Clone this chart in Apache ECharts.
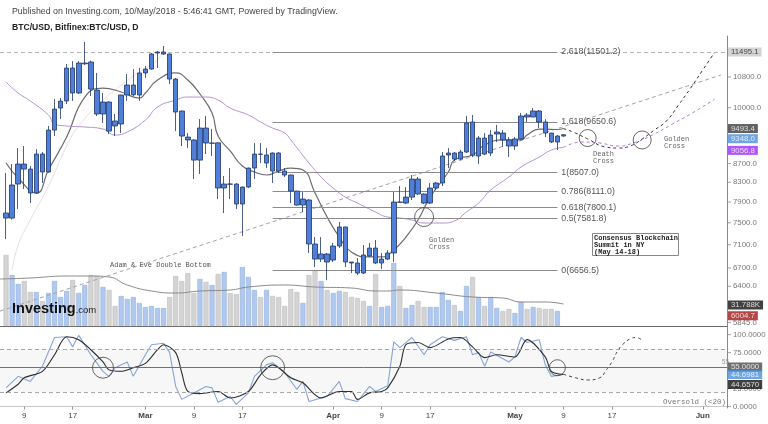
<!DOCTYPE html>
<html><head><meta charset="utf-8">
<script src="https://cdn.jsdelivr.net/npm/echarts@6/dist/echarts.min.js"></script>
<style>html,body{margin:0;padding:0;background:#fff}#c{width:768px;height:424px}</style>
</head><body><div id="c"></div>
<script>
// ---------- categories (daily, 2018-02-05 .. 2018-06-05) ----------
const categories = [];
(function(){ let t = Date.UTC(2018,1,5); const end = Date.UTC(2018,5,5);
  while (t <= end) { categories.push(new Date(t).toISOString().slice(0,10)); t += 86400000; } })();

// x tick labels
const xTicks = {'2018-02-09':'9','2018-02-17':'17','2018-03-01':'Mar','2018-03-09':'9','2018-03-17':'17',
  '2018-04-01':'Apr','2018-04-09':'9','2018-04-17':'17','2018-05-01':'May','2018-05-09':'9','2018-05-17':'17','2018-06-01':'Jun'};

// ---------- daily candles from 2018-02-06: [open, close, low, high] ----------
const ohlc = [
[7686,7590,7202,8495],[7589,8244,7560,8687],[8264,8687,7762,9041],[8687,8578,8161,9087],[8578,8080,7880,8644],
[8080,8907,8060,9018],[8907,8516,8285,8952],[8516,9457,8500,9554],[9457,9966,9317,10219],[9992,10167,9721,10245],
[10170,11043,10093,11155],[11043,10375,10170,11236],[10375,11183,10350,11236],[11160,11183,11127,11786],[11211,10477,10297,11250],
[10451,9845,9795,10908],[9845,10144,9626,10375],[10144,9433,9364,10160],[9674,9554,9317,9845],[9602,10323,9387,10330],
[10323,10584,10170,10880],[10330,10584,10297,11015],[10323,10908,10170,11043],[10908,11015,10771,11099],[11015,11438,11000,11466],
[11466,11495,11043,11524],[11438,11495,11409,11668],[11438,10744,10611,11450],[10744,9894,9433,10771],[9919,9317,9087,9930],
[9293,9226,9041,9387],[9226,8773,8367,9240],[8773,9505,8473,9721],[9505,9156,8907,9795],[9150,9156,8863,9481],
[9160,8181,7958,9170],[8181,8264,7686,8431],[8264,8260,7958,8600],[8264,7861,7762,8280],[7861,8202,7257,8210],
[8202,8600,8180,8610],[8600,8907,8367,9156],[8907,8900,8709,9156],[8709,8885,8600,9041],[8930,8537,8285,8940],
[8930,8537,8495,8952],[8537,8452,8410,8600],[8452,8119,7880,8460],[8119,7841,7830,8125],[7841,7958,7705,8100],
[7940,7113,6955,7958],[7113,6850,6715,7238],[6850,6937,6800,7238],[6937,6800,6499,6955],[6833,7077,6800,7131],
[7077,7422,7041,7515],[7422,6800,6715,7430],[6800,6783,6615,6800],[6783,6615,6582,6867],[6920,6615,6600,7095],
[6903,7041,6886,7131],[7041,6783,6766,7185],[6783,6850,6682,6955],[6850,6955,6833,7005],[6955,7900,6800,8100],
[7900,7895,7890,8223],[7880,7998,7860,8202],[7998,8367,7940,8452],[8367,8060,8040,8410],[8060,7880,7861,8070],
[7880,8181,7861,8285],[8181,8285,8140,8306],[8285,8863,8223,8952],[8885,8930,8600,9041],[8930,8795,8752,8952],
[8795,8952,8773,9000],[8952,9626,8930,9795],[9650,8885,8840,9820],[8863,9270,8687,9317],[9270,8907,8885,9387],
[8930,9340,8863,9457],[9364,9411,9179,9578],[9387,9226,9064,9457],[9226,9087,8840,9293],[9087,9249,9000,9293],
[9249,9795,9226,9870],[9820,9770,9650,9870],[9770,9919,9770,9992],[9919,9650,9505,9943],[9650,9387,9293,9721],
[9387,9179,9156,9390],[9179,9317,8996,9340],[9317,9348,9300,9360]
];
// volume (thousands), same days
const volumeK = [142,102,84,90,68,68,50,66,90,58,70,92,66,82,102,100,78,72,40,60,54,58,46,38,40,36,36,58,100,90,
106,66,94,88,82,104,108,66,64,118,98,72,58,72,60,58,40,74,68,46,102,110,90,72,66,70,68,58,56,50,
40,104,38,40,126,80,36,42,50,38,38,38,68,52,42,30,80,98,58,40,58,36,30,34,26,48,34,38,36,34,34,30];
// volume moving average [dayIndex, K]
const volMA = [[0,94],[5,96],[11,100],[15,100],[18,98],[21,82],[25,70],[29,66],[33,70],[38,72],[41,78],[47,82],[52,78],
[58,76],[62,70],[64,70],[66,72],[72,66],[78,58],[83,56],[86,48],[90,48],[93,44]];

// moving averages on price [dayIndex, price]
const maFast = [[1,8709],[3,8388],[6,8080],[8,8559],[11,9293],[14,10271],[17,10504],[20,10401],[23,10245],[24,10375],
[26,10716],[29,10908],[31,10716],[33,10349],[35,9870],[36,9317],[38,8975],[40,8644],[42,8516],[44,8452],[46,8537],
[48,8600],[50,8559],[52,8080],[54,7609],[56,7238],[58,6972],[61,6886],[63,6886],[65,7006],[67,7238],[69,7553],
[71,7998],[74,8516],[75,8773],[78,8885],[80,9110],[83,9226],[86,9226],[87,9340],[89,9481],[90,9481],[92,9470],[93,9493.4]];
const maSlow = [[1,10664],[3,10375],[5,10170],[8,9820],[9,9602],[11,9554],[14,9530],[17,9481],[19,9340],[21,9411],
[24,9696],[26,10017],[29,10193],[31,10271],[34,10271],[36,10193],[38,9992],[41,9820],[43,9650],[45,9505],[47,9387],
[48,9226],[51,8709],[53,8410],[55,8181],[57,7998],[59,7880],[62,7705],[64,7609],[66,7590],[68,7553],[70,7496],
[73,7496],[75,7534],[77,7705],[79,7880],[81,8140],[84,8410],[86,8622],[89,8840],[91,8996],[93,9056.8]];
const maFaint = [[2,6665],[3,7095],[5,7553],[8,8223],[11,9087],[13,9554],[17,10193],[20,10584],[23,10935],[26,11265],[27,11610]];

// drawn projections [dayIndex, price]
const trendLine = [[0,6015],[119,10853]];
const projFast = [[93,9493],[95,9387],[97,9249],[100,9064],[102,9041],[104,9087],[106,9249],[108,9457],[110,9674],
[112,10068],[114,10504],[116,10990],[118,11495]];
const projSlow = [[93,9057],[96,9179],[99,9156],[102,9087],[105,9179],[108,9364],[111,9602],[114,9845],[118,10219]];

// Fibonacci levels
const fibLevels = [['2.618',11501.2],['1.618',9650.6],['1',8507.0],['0.786',8111.0],['0.618',7800.1],['0.5',7581.8],['0',6656.5]];
const fibStart = '2018-03-22', fibEnd = '2018-05-08';

// circles [dayIndex, value, size]
const priceCircles = [[69.7,7609,19],[97.3,9270,17],[105.7,9226,18]];
const oscCircles = [[17,54,21],[44.6,54,24],[92,54,16]];

// oscillator [dayIndex, value]
const stochK = [[1,26],[3,42],[5,35],[7,56],[9,96],[11,97],[12,83],[13,99],[15,72],[17,49],[18,42],[19,54],[21,62],[22,42],
[24,72],[25,86],[27,88],[28,75],[29,28],[30,10],[32,19],[34,28],[35,26],[36,6],[38,14],[39,3],[41,19],[42,42],[44,58],
[45,61],[47,47],[49,24],[50,35],[51,7],[53,12],[54,14],[56,35],[57,11],[59,7],[61,28],[62,21],[64,29],[65,90],[66,82],
[68,96],[70,72],[71,86],[73,97],[75,92],[77,97],[78,72],[79,75],[80,56],[81,76],[84,62],[85,69],[86,96],[87,89],[89,93],
[90,58],[91,42],[93,44.6981]];
const stochD = [[1,19],[3,31],[4,40],[7,49],[9,72],[11,97],[13,93],[15,79],[17,62],[18,51],[20,49],[22,54],[24,60],[26,79],
[27,86],[29,75],[30,47],[31,21],[33,18],[36,21],[38,12],[41,21],[43,44],[45,58],[46,54],[48,40],[50,33],[53,12],[56,21],
[58,21],[59,10],[61,19],[63,21],[64,26],[66,56],[67,86],[69,89],[71,82],[74,94],[76,96],[78,83],[80,68],[82,72],[85,69],
[87,93],[90,69],[91,49],[93,44.657]];
const stochProj = [[93,45],[95,40],[97,37],[99,40],[100,50],[101,62],[102,78],[103,88],[104,94],[105,96],[106,92]];

// right axis ticks / boxes
const priceTicks = [10800,10000,8700,8300,7900,7500,7100,6700,6400,5845];
const priceBoxes = [[11495.1,'#c9c9c9','#222',0],[9493.4,'#3a3a3a','#fff',0],[9348.0,'#4a8fdc','#fff',4],[9056.8,'#9a2cf5','#fff',3],[6004.7,'#a01818','#fff',4]];
const volBoxes = [[31.788,'31.788K','#111','#fff',-5]];
const oscTicks = [100,75,25,0];
const oscBoxes = [[55,'#4a4a4a','#fff',0],[44.6981,'#4a8fdc','#fff',0],[44.6570,'#111','#fff',10]];

// ---------------------------------------------------------------
const SANS = 'Liberation Sans, Arial, sans-serif';
const MONO = 'Liberation Mono, DejaVu Sans Mono, monospace';
const LAST = 120;
const candleData = categories.map((c,i)=> (i>=1 && i<=ohlc.length) ? ohlc[i-1] : '-');
const volData = categories.map((c,i)=>{
  if (i<1 || i>volumeK.length) return '-';
  const o = ohlc[i-1]; const up = o[1] >= o[0];
  return {value: volumeK[i-1], itemStyle:{color: up?'#b1c9ee':'#d4d4d4', borderColor: up?'#8eaee0':'#bcbcbc', borderWidth:0.6}};
});
function tickFn(idx, val){ return xTicks.hasOwnProperty(val); }

const chart = echarts.init(document.getElementById('c'));
const option = {
  animation:false,
  backgroundColor:'#fff',
  title:[
    {text:'Published on Investing.com, 10/May/2018 - 5:46:41 GMT, Powered by TradingView.', left:7, top:2,
     textStyle:{fontFamily:SANS, fontSize:8.8, fontWeight:'normal', color:'#444'}},
    {text:'BTC/USD, Bitfinex:BTC/USD, D', left:7, top:18, textStyle:{fontFamily:SANS, fontSize:8.6, fontWeight:'bold', color:'#222'}}
  ],
  grid:[
    {left:0, right:41, top:36, height:290},
    {left:0, right:41, top:226, height:100},
    {left:0, right:41, top:326, height:82}
  ],
  xAxis:[
    {type:'category', gridIndex:0, data:categories, boundaryGap:false, show:false},
    {type:'category', gridIndex:1, data:categories, boundaryGap:false, axisLine:{show:true, lineStyle:{color:'#6a6a6a'}}, axisTick:{show:false}, axisLabel:{show:false}},
    {type:'category', gridIndex:2, data:categories, boundaryGap:false,
     axisLine:{show:true, lineStyle:{color:'#c8c8c8'}},
     axisTick:{show:true, interval:tickFn, length:3, lineStyle:{color:'#999'}},
     axisLabel:{interval:tickFn, margin:4, fontFamily:SANS, fontSize:8, color:'#444',
       formatter:v=>{ const t = xTicks[v]; return /^[A-Z]/.test(t) ? '{b|'+t+'}' : t; },
       rich:{b:{fontWeight:'bold', fontFamily:SANS, fontSize:8, color:'#444'}}}}
  ],
  yAxis:[
    {type:'log', gridIndex:0, position:'right', min:5794.6, max:11964.3, axisLine:{show:true, lineStyle:{color:'#888'}},
     axisTick:{show:false}, axisLabel:{show:false}, splitLine:{show:false}},
    {type:'value', gridIndex:1, min:0, max:200, show:false, splitLine:{show:false}},
    {type:'value', gridIndex:2, position:'right', min:-2, max:112, axisLine:{show:true, lineStyle:{color:'#888'}},
     axisTick:{show:false}, axisLabel:{show:false}, splitLine:{show:false}}
  ],
  series:[
    {type:'bar', xAxisIndex:1, yAxisIndex:1, data:volData, barWidth:5, z:1},
    {type:'line', xAxisIndex:1, yAxisIndex:1, data:volMA, smooth:true, symbol:'none', lineStyle:{color:'#8a8a8a', width:1}, z:2},
    {type:'line', xAxisIndex:0, yAxisIndex:0, data:maFaint, smooth:true, symbol:'none', lineStyle:{color:'#e9dde6', width:1}, z:2},
    {type:'line', xAxisIndex:0, yAxisIndex:0, data:trendLine, symbol:'none', lineStyle:{color:'#a8a0aa', width:1, type:[4,3]}, z:2},
    {type:'candlestick', xAxisIndex:0, yAxisIndex:0, data:candleData, barWidth:5, z:5,
     itemStyle:{color:'#4f7fd6', color0:'#4f7fd6', borderColor:'#1f3769', borderColor0:'#1f3769', borderWidth:0.8},
     markLine:{silent:true, symbol:['none','none'], animation:false,
       data:[
         {yAxis:11495.1, lineStyle:{color:'#b5b5b5', type:[4,3], width:1}, label:{show:false}},
         ...fibLevels.map(([r,v])=>[
           {coord:[fibStart, v], lineStyle:{color:'#8c8c8c', type:'solid', width:1.2}},
           {coord:[fibEnd, v], label:{show:true, position:'end', distance:4, formatter:r+'('+v.toFixed(1)+')',
              fontFamily:SANS, fontSize:8.8, color:'#555'}}])
       ]}},
    {type:'line', xAxisIndex:0, yAxisIndex:0, data:maFast, smooth:true, symbol:'none', lineStyle:{color:'#6c6c6c', width:1.2}, z:4},
    {type:'line', xAxisIndex:0, yAxisIndex:0, data:maSlow, smooth:true, symbol:'none', lineStyle:{color:'#b393cf', width:1}, z:4},
    {type:'line', xAxisIndex:0, yAxisIndex:0, data:projFast, smooth:true, symbol:'none', lineStyle:{color:'#333', width:1, type:[3,3]}, z:4},
    {type:'line', xAxisIndex:0, yAxisIndex:0, data:projSlow, smooth:true, symbol:'none', lineStyle:{color:'#b07cd6', width:1, type:[3,3]}, z:4},
    {type:'scatter', xAxisIndex:0, yAxisIndex:0, data:priceCircles.map(c=>[c[0],c[1]]), symbolSize:(v,p)=>priceCircles[p.dataIndex][2],
     itemStyle:{color:'rgba(0,0,0,0)', borderColor:'#444', borderWidth:1}, z:6, silent:true},
    // right axis tick labels (price)
    {type:'scatter', xAxisIndex:0, yAxisIndex:0, clip:false, data:priceTicks.map(v=>[LAST,v]), symbol:'rect', symbolSize:[4,1], symbolOffset:[2,0],
     itemStyle:{color:'#888'}, label:{show:true, position:'right', distance:2, formatter:p=>p.value[1].toFixed(1), fontFamily:SANS, fontSize:7.8, color:'#555'}, z:7},
    {type:'scatter', xAxisIndex:0, yAxisIndex:0, clip:false, symbolSize:0, z:9,
     data:priceBoxes.map(b=>({value:[LAST,b[0]], label:{backgroundColor:b[1], color:b[2]}})),
     label:{show:true, position:'right', distance:1, fontFamily:SANS, fontSize:7.8, padding:[1,3,0,3],
       formatter:p=>p.value[1].toFixed(1)},
     labelLayout:p=>({dy: priceBoxes[p.dataIndex][3]}),
     itemStyle:{color:'rgba(0,0,0,0)'}},
    // volume box
    {type:'scatter', xAxisIndex:1, yAxisIndex:1, clip:false, data:volBoxes.map(b=>[LAST,b[0]]), symbolSize:0, z:10,
     label:{show:true, position:'right', distance:1, fontFamily:SANS, fontSize:7.8, padding:[1,3,0,3], formatter:p=>volBoxes[p.dataIndex][1],
       backgroundColor:'#111', color:'#fff'}, labelLayout:p=>({dy: volBoxes[p.dataIndex][4]})},
    // oscillator
    {type:'line', xAxisIndex:2, yAxisIndex:2, data:stochK, symbol:'none', lineStyle:{color:'#86a5d6', width:1.1}, z:3,
     markArea:{silent:true, itemStyle:{color:'#f7f7f7'}, data:[[{yAxis:20},{yAxis:80}]]},
     markLine:{silent:true, symbol:['none','none'], label:{show:false}, data:[
        {yAxis:80, lineStyle:{color:'#a8a8a8', type:[4,3], width:1}},
        {yAxis:20, lineStyle:{color:'#a8a8a8', type:[4,3], width:1}},
        {yAxis:55, lineStyle:{color:'#707070', type:'solid', width:1}, label:{show:true, position:'insideEndTop', formatter:'55', fontSize:6.5, color:'#999', distance:[-2,1]}}]}},
    {type:'line', xAxisIndex:2, yAxisIndex:2, data:stochD, smooth:0.3, symbol:'none', lineStyle:{color:'#2e2e2e', width:1.1}, z:4},
    {type:'line', xAxisIndex:2, yAxisIndex:2, data:stochProj, smooth:true, symbol:'none', lineStyle:{color:'#444', width:1, type:[3,3]}, z:4},
    {type:'scatter', xAxisIndex:2, yAxisIndex:2, data:oscCircles.map(c=>[c[0],c[1]]), symbolSize:(v,p)=>oscCircles[p.dataIndex][2],
     itemStyle:{color:'rgba(0,0,0,0)', borderColor:'#444', borderWidth:1}, z:6, silent:true},
    {type:'scatter', xAxisIndex:2, yAxisIndex:2, clip:false, data:oscTicks.map(v=>[LAST,v]), symbol:'rect', symbolSize:[4,1], symbolOffset:[2,0],
     itemStyle:{color:'#888'}, label:{show:true, position:'right', distance:2, formatter:p=>p.value[1].toFixed(4), fontFamily:SANS, fontSize:7.8, color:'#555'}, z:7},
    {type:'scatter', xAxisIndex:2, yAxisIndex:2, clip:false, symbolSize:0, z:9,
     data:oscBoxes.map(b=>({value:[LAST,b[0]], label:{backgroundColor:b[1], color:b[2]}})),
     label:{show:true, position:'right', distance:1, fontFamily:SANS, fontSize:7.8, padding:[1,3,0,3], formatter:p=>p.value[1].toFixed(4)},
     labelLayout:p=>({dy: oscBoxes[p.dataIndex][3]})}
  ],
  graphic:[
    {type:'text', left:12, top:301, z:20, style:{text:'{a|Investing}{b|.com}', rich:{
      a:{fontFamily:SANS, fontWeight:'bold', fontSize:14.5, fill:'#111'}, b:{fontFamily:SANS, fontSize:9.5, fill:'#222', padding:[3,0,0,0]}}}},
    {type:'text', left:110, top:262, z:20, style:{text:'Adam & Eve Double Bottom', font:'7px '+MONO, fill:'#555'}},
    {type:'text', left:429, top:236, z:20, style:{text:'Golden\nCross', font:'7px '+MONO, fill:'#666', lineHeight:7.5}},
    {type:'text', left:593, top:150, z:20, style:{text:'Death\nCross', font:'7px '+MONO, fill:'#666', lineHeight:7.5}},
    {type:'text', left:664, top:135, z:20, style:{text:'Golden\nCross', font:'7px '+MONO, fill:'#666', lineHeight:7.5}},
    {type:'rect', left:592, top:233, z:20, shape:{width:86, height:22}, style:{fill:'#fff', stroke:'#888', lineWidth:1}},
    {type:'text', left:594, top:235, z:21, style:{text:'Consensus Blockchain\nSummit in NY\n(May 14-18)', font:'bold 7px '+MONO, fill:'#222', lineHeight:7}},
    {type:'text', right:42, top:398, z:20, style:{text:'Oversold (<20)', font:'7.5px '+MONO, fill:'#777'}}
  ]
};
chart.setOption(option);
</script></body></html>
